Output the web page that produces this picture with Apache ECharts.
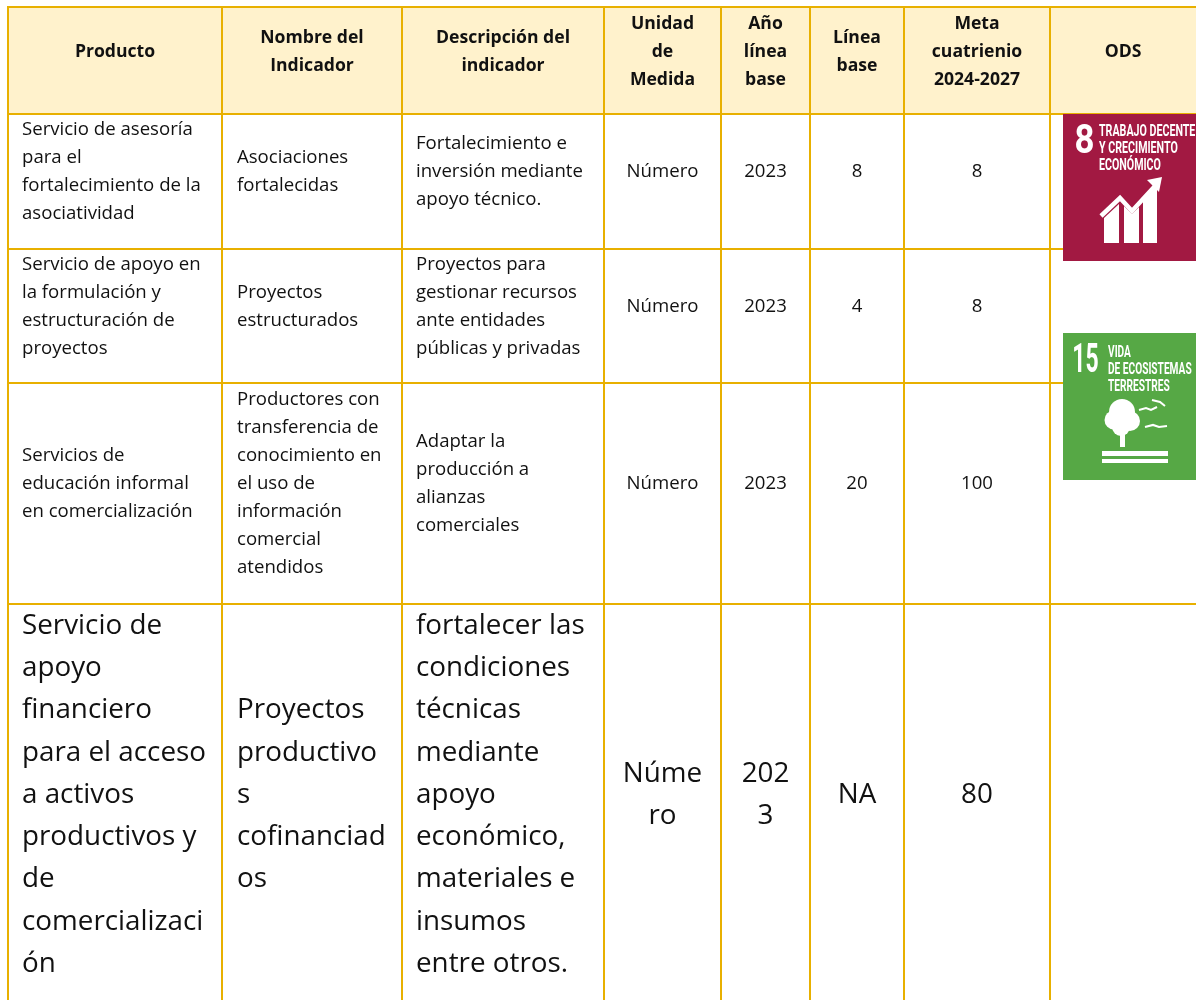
<!DOCTYPE html>
<html><head><meta charset="utf-8">
<style>html,body{margin:0;padding:0;background:#fff}#c{width:1196px;height:1000px}</style>
<script src="https://cdn.jsdelivr.net/npm/echarts@6/dist/echarts.min.js"></script>
</head><body><div id="c"></div>
<script>
// ---- table content ----
const headers = ["Producto","Nombre del\nIndicador","Descripción del\nindicador","Unidad\nde\nMedida","Año\nlínea\nbase","Línea\nbase","Meta\ncuatrienio\n2024-2027","ODS"];
const productos = ["Servicio de asesoría\npara el\nfortalecimiento de la\nasociatividad","Servicio de apoyo en\nla formulación y\nestructuración de\nproyectos","Servicios de\neducación informal\nen comercialización","Servicio de\napoyo\nfinanciero\npara el acceso\na activos\nproductivos y\nde\ncomercializaci\nón"];
const indicadores = ["Asociaciones\nfortalecidas","Proyectos\nestructurados","Productores con\ntransferencia de\nconocimiento en\nel uso de\ninformación\ncomercial\natendidos","Proyectos\nproductivo\ns\ncofinanciad\nos"];
const descripciones = ["Fortalecimiento e\ninversión mediante\napoyo técnico.","Proyectos para\ngestionar recursos\nante entidades\npúblicas y privadas","Adaptar la\nproducción a\nalianzas\ncomerciales","fortalecer las\ncondiciones\ntécnicas\nmediante\napoyo\neconómico,\nmateriales e\ninsumos\nentre otros."];
const unidades = ["Número","Número","Número","Núme\nro"];
const aniosBase = ["2023","2023","2023","202\n3"];
const lineasBase = ["8","4","20","NA"];
const metas = ["8","8","100","80"];
const odsTitulos = ["TRABAJO DECENTE\nY CRECIMIENTO\nECONÓMICO","VIDA\nDE ECOSISTEMAS\nTERRESTRES"];
const odsNumeros = ["8","15"];

// ---- layout (separate from content) ----
const colEdges = [8,222,402,604,721,810,904,1050];
const tableRight = 1196;
const rowEdges = [7,114,249,383,604,1000];
const rowCenters = [51.5,172,306.5,483.5,795];
const leftPad = [22,237,416];
const GOLD = "#E8B000", HEAD = "#FFF2CC", INK = "#111111";
const FONT = '"Open Sans",sans-serif';

const columns = [productos,indicadores,descripciones,unidades,aniosBase,lineasBase,metas];
const cellData = [];
headers.forEach((h,c)=>cellData.push([c,0]));
for(let r=0;r<4;r++) for(let c=0;c<columns.length;c++) cellData.push([c,r+1]);

const right = c => c+1<colEdges.length ? colEdges[c+1] : tableRight;

function renderCell(params,api){
  const c=api.value(0), r=api.value(1);
  const big = r===4;
  const text = r===0 ? headers[c] : columns[c][r-1];
  const left = r>0 && c<3;
  const cx = (colEdges[c]+right(c))/2;
  const x = left ? leftPad[c] : cx;
  const p = api.coord([x,rowCenters[r]]);
  const children=[];
  if(r===0){
    const a=api.coord([colEdges[c],rowEdges[0]]), b=api.coord([right(c),rowEdges[1]]);
    children.push({type:'rect',shape:{x:a[0],y:a[1],width:b[0]-a[0],height:b[1]-a[1]},style:{fill:HEAD},z2:0});
  }
  children.push({type:'text',x:p[0],y:p[1],z2:3,style:{
    text, x:0,y:0, align:left?'left':'center', verticalAlign:'middle',
    font:(r===0?'bold 17.6px ':(big?'27.8px ':'18.6px '))+FONT, lineHeight:big?42.25:28, fill:INK}});
  return {type:'group',children};
}

// grid line list: [x0,y0,x1,y1]
const gridLines = [];
rowEdges.slice(0,5).forEach(y=>gridLines.push([colEdges[0]-1,y,tableRight,y]));
colEdges.forEach(x=>gridLines.push([x,rowEdges[0]-1,x,rowEdges[5]]));

function renderLine(params,api){
  const a=api.coord([api.value(0),api.value(1)]), b=api.coord([api.value(2),api.value(3)]);
  return {type:'line',shape:{x1:a[0],y1:a[1],x2:b[0],y2:b[1]},style:{stroke:GOLD,lineWidth:2,fill:null},z2:1};
}

// SDG tiles: pictograms are drawn in tile-local units through the axes
const tileBoxes = [[1063,114,1196,261,"#A21942"],[1063,333,1196,480,"#56A845"]];
function tileShapes(i,toP){
  const W="#fff"; const out=[];
  const poly=(pts)=>out.push({type:'polygon',shape:{points:pts.map(toP)},style:{fill:W},z2:6});
  const line=(pts,w)=>out.push({type:'polyline',shape:{points:pts.map(toP)},style:{stroke:W,lineWidth:w,fill:null},z2:6});
  const disc=(q,r)=>{const p=toP(q);out.push({type:'circle',shape:{cx:p[0],cy:p[1],r},style:{fill:W},z2:6});};
  if(i===0){
    poly([[41,104],[56,90],[56,129],[41,129]]);
    poly([[61,92],[69,100],[76,93],[76,129],[61,129]]);
    poly([[80,87],[94,72],[94,129],[80,129]]);
    line([[38,102],[57,84],[69,97],[92,72]],4.5);
    poly([[84,66],[99,63],[96,78]]);
  } else {
    disc([59,79],13); disc([51,87],9.5); disc([67,88],10); disc([58,94],9);
    poly([[57,100],[62,100],[62,114],[57,114]]);
    poly([[39,118],[105,118],[105,123],[39,123]]);
    poly([[39,126],[105,126],[105,130],[39,130]]);
    line([[76,77],[83,75],[88,77],[94,74]],2);
    line([[89,67],[97,69],[102,73]],2);
    line([[82,94],[90,92],[96,94],[104,93]],2.2);
  }
  return out;
}
function renderTile(params,api){
  const i=api.value(0); const b=tileBoxes[i];
  const a=api.coord([b[0],b[1]]), d=api.coord([b[2],b[3]]);
  const toP=q=>api.coord([b[0]+q[0],b[1]+q[1]]);
  const children=[{type:'rect',shape:{x:a[0],y:a[1],width:d[0]-a[0],height:d[1]-a[1]},style:{fill:b[4]},z2:5}];
  const n=toP(i===0?[21.5,29]:[22.5,29]);
  children.push({type:'text',x:n[0],y:n[1],scaleX:i===0?0.85:0.56,z2:6,style:{text:odsNumeros[i],x:0,y:0,align:'center',verticalAlign:'middle',font:'bold 41px "Roboto",sans-serif',fill:'#fff'}});
  const t=toP(i===0?[36,35]:[45,37]);
  children.push({type:'text',x:t[0],y:t[1],scaleX:i===0?0.666:0.634,z2:6,style:{text:odsTitulos[i],x:0,y:0,align:'left',verticalAlign:'middle',font:'bold 16px "Roboto",sans-serif',lineHeight:17,fill:'#fff'}});
  children.push(...tileShapes(i,toP));
  return {type:'group',children};
}

const chart = echarts.init(document.getElementById('c'),null,{renderer:'canvas',width:1196,height:1000});
chart.setOption({
  animation:false,
  backgroundColor:'#fff',
  grid:{left:0,right:0,top:0,bottom:0},
  xAxis:{type:'value',min:0,max:1196,show:false},
  yAxis:{type:'value',min:0,max:1000,inverse:true,show:false},
  tooltip:{show:false},
  series:[
    {type:'custom',coordinateSystem:'cartesian2d',silent:true,renderItem:renderCell,data:cellData,encode:{x:0,y:1},clip:false,z:1},
    {type:'custom',coordinateSystem:'cartesian2d',silent:true,renderItem:renderLine,data:gridLines,encode:{x:[0,2],y:[1,3]},clip:false,z:2},
    {type:'custom',coordinateSystem:'cartesian2d',silent:true,renderItem:renderTile,data:tileBoxes.map((b,i)=>[i]),encode:{x:0},clip:false,z:3}
  ]
});
</script></body></html>
